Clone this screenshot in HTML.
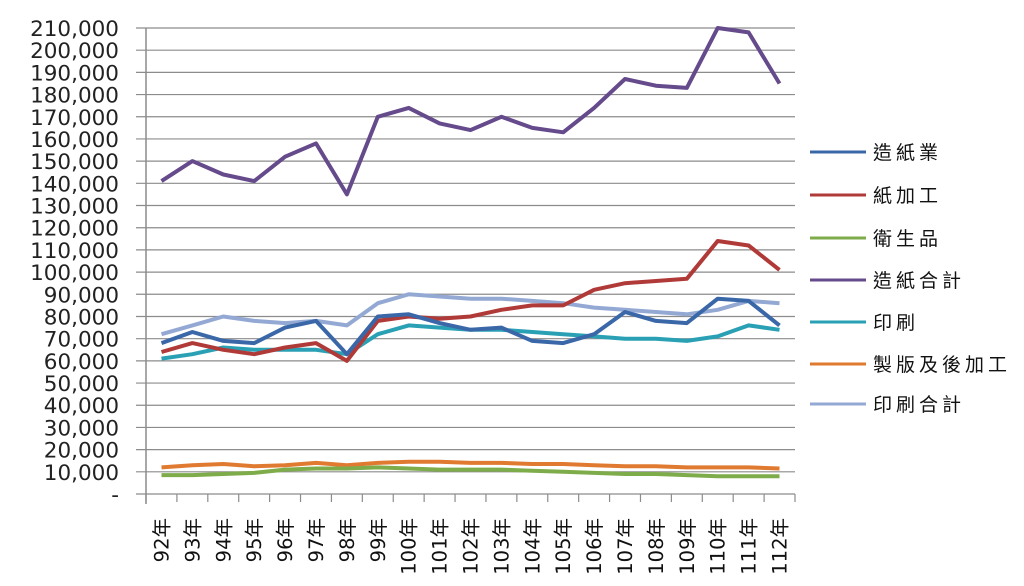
<!DOCTYPE html>
<html><head><meta charset="utf-8"><style>
html,body{margin:0;padding:0;background:#fff;width:1024px;height:586px;overflow:hidden}
svg text{font-family:"DejaVu Sans","Noto Sans CJK TC",sans-serif}
</style></head><body>
<svg id="c" width="1024" height="586" xmlns="http://www.w3.org/2000/svg"></svg>
<script>
(function(){
var s=document.getElementById('c');var h='';
var T0=28,Z0=494,L=146,R=795,n=21,dx=(R-L)/n;
function Y(v){return Z0-v*(Z0-T0)/210;}
for(var i=0;i<=21;i++){var y=Y(i*10);h+='<line x1="136" y1="'+y+'" x2="'+R+'" y2="'+y+'" stroke="#8c8c8c" stroke-width="1.2"/>';
h+='<text x="119" y="'+(y+8)+'" font-size="21.5" text-anchor="end" fill="#222">'+(i==0?'-':(i*10)+',000')+'</text>';}
h+='<line x1="'+L+'" y1="'+T0+'" x2="'+L+'" y2="'+(Z0+10)+'" stroke="#8c8c8c" stroke-width="1.5"/>';
for(var i=0;i<=n;i++){var x=L+i*dx;h+='<line x1="'+x+'" y1="'+Z0+'" x2="'+x+'" y2="'+(Z0+8)+'" stroke="#8c8c8c" stroke-width="1.2"/>';}
for(var i=0;i<n;i++){var x=L+(i+0.5)*dx;h+='<text transform="translate('+(x+7)+',518) rotate(-90)" font-size="19.5" text-anchor="end" fill="#111">'+(92+i)+'年</text>';}
var S=[
['#3a67a8',[68,73,69,68,75,78,63,80,81,77,74,75,69,68,72,82,78,77,88,87,76],'造紙業'],
['#b03a38',[64,68,65,63,66,68,60,78,80,79,80,83,85,85,92,95,96,97,114,112,101],'紙加工'],
['#7fac4a',[8.5,8.5,9,9.5,11,11.5,11.5,12,11.5,11,11,11,10.5,10,9.5,9,9,8.5,8,8,8],'衛生品'],
['#654a8c',[141,150,144,141,152,158,135,170,174,167,164,170,165,163,174,187,184,183,210,208,185],'造紙合計'],
['#2aa0b5',[61,63,66,65,65,65,63,72,76,75,74,74,73,72,71,70,70,69,71,76,74],'印刷'],
['#e07a30',[12,13,13.5,12.5,13,14,13,14,14.5,14.5,14,14,13.5,13.5,13,12.5,12.5,12,12,12,11.5],'製版及後加工'],
['#93a9d4',[72,76,80,78,77,78,76,86,90,89,88,88,87,86,84,83,82,81,83,87,86],'印刷合計']];
var order=[6,5,4,2,1,0,3];
order.forEach(function(k){var c=S[k][0],d=S[k][1];h+='<polyline fill="none" stroke="'+c+'" stroke-width="4" stroke-linejoin="round" points="'+d.map(function(v,i){return (L+(i+0.5)*dx).toFixed(1)+','+Y(v).toFixed(1);}).join(' ')+'"/>';});
var ly=[152,195,238,280,322,364,404];
S.forEach(function(e,i){h+='<line x1="810" y1="'+ly[i]+'" x2="866" y2="'+ly[i]+'" stroke="'+e[0]+'" stroke-width="3"/>';
h+='<text x="873" y="'+(ly[i]+7)+'" font-size="19" letter-spacing="4" fill="#111">'+e[2]+'</text>';});
s.innerHTML=h;
})();
</script>
</body></html>
